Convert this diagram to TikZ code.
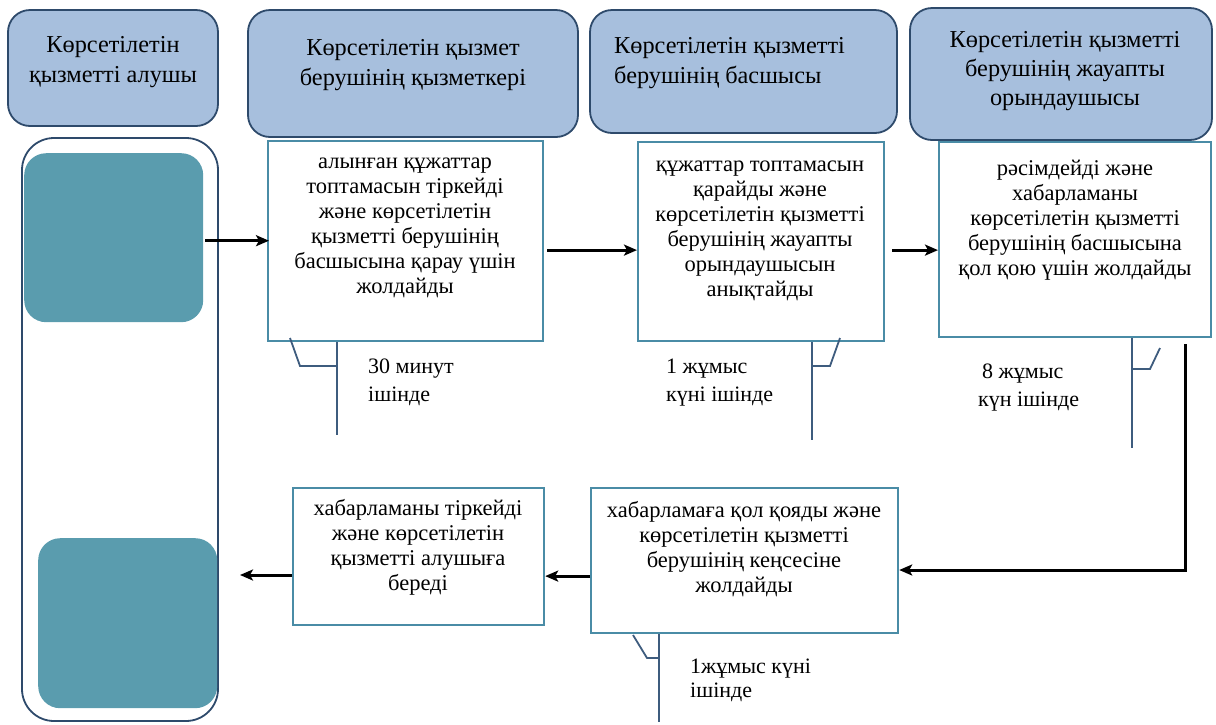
\documentclass[tikz,border=0pt]{standalone}
\usepackage{fontspec}
\setmainfont{Liberation Serif}
\usetikzlibrary{arrows.meta}
\definecolor{headfill}{HTML}{A7BFDD}
\definecolor{headdraw}{HTML}{2E4A6B}
\definecolor{tealfill}{HTML}{5A9CAE}
\definecolor{boxdraw}{HTML}{4A8CA6}
\definecolor{brk}{HTML}{3E5C7E}
\begin{document}
\begin{tikzpicture}[x=1pt,y=-1pt,
  head/.style={draw=headdraw, fill=headfill, line width=1.8pt, rounded corners=22pt},
  lanebox/.style={draw=headdraw, line width=1.8pt, rounded corners=32pt},
  tealbox/.style={fill=tealfill, rounded corners=22pt},
  stepbox/.style={draw=boxdraw, line width=2.2pt, fill=white},
  htxt/.style={font=\fontsize{24.3}{30}\selectfont, align=center, anchor=north, inner sep=0pt},
  btxt/.style={font=\fontsize{22.5}{25}\selectfont, align=center, anchor=north, inner sep=0pt},
  ttxt/.style={font=\fontsize{22}{28.5}\selectfont, align=left, anchor=north west, inner sep=0pt},
  flow/.style={-{Stealth[length=13pt,width=11pt,inset=3pt]}, line width=3pt},
  brkline/.style={draw=brk, line width=1.8pt}
]
\useasboundingbox (0,0) rectangle (1216,724);

% header boxes
\draw[head] (8,10) rectangle (218,126);
\node[inner sep=0pt, minimum size=0pt] (h1) at (113,68) {};
\draw[head] (248,10) rectangle (578,137);
\node[inner sep=0pt, minimum size=0pt] (h2) at (413,73) {};
\draw[head] (590,10) rectangle (897,133);
\node[inner sep=0pt, minimum size=0pt] (h3) at (743,71) {};
\draw[head] (910,8) rectangle (1212,140);
\node[inner sep=0pt, minimum size=0pt] (h4) at (1061,74) {};

\node[htxt] (h1t) at (113,31.6) {\strut Көрсетілетін\\қызметті алушы};
\node[htxt] (h2t) at (413,34.6) {\strut Көрсетілетін қызмет\\берушінің қызметкері};
\node[htxt, anchor=north west, align=left] (h3t) at (614,32.6) {\strut Көрсетілетін қызметті\\берушінің басшысы};
\node[htxt, font=\fontsize{24.3}{29}\selectfont] (h4t) at (1065,27) {\strut Көрсетілетін қызметті\\берушінің жауапты\\орындаушысы};

% lane of the receiver
\draw[lanebox] (22,138) rectangle (218,721);
\node[tealbox, minimum width=179pt, minimum height=169pt, anchor=north west, inner sep=0pt] (teal1) at (24,153) {};
\node[tealbox, minimum width=179pt, minimum height=170pt, anchor=north west, inner sep=0pt] (teal2) at (38,538) {};

% step boxes
\node[stepbox, minimum width=275pt, minimum height=200pt, anchor=north west, inner sep=0pt] (b1) at (267,140) {};
\node[stepbox, minimum width=246pt, minimum height=199pt, anchor=north west, inner sep=0pt] (b2) at (637,141) {};
\node[stepbox, minimum width=272pt, minimum height=195pt, anchor=north west, inner sep=0pt] (b3) at (938,141) {};
\node[stepbox, minimum width=307pt, minimum height=145pt, anchor=north west, inner sep=0pt] (b4) at (590,487) {};
\node[stepbox, minimum width=251pt, minimum height=137pt, anchor=north west, inner sep=0pt] (b5) at (292,487) {};

\node[btxt] (b1t) at (405,150.7) {\strut алынған құжаттар\\топтамасын тіркейді\\және көрсетілетін\\қызметті берушінің\\басшысына қарау үшін\\жолдайды};
\node[btxt] (b2t) at (760,153.7) {\strut құжаттар топтамасын\\қарайды және\\көрсетілетін қызметті\\берушінің жауапты\\орындаушысын\\анықтайды};
\node[btxt] (b3t) at (1075,157.7) {\strut рәсімдейді және\\хабарламаны\\көрсетілетін қызметті\\берушінің басшысына\\қол қою үшін жолдайды};
\node[btxt] (b4t) at (744,499.7) {\strut хабарламаға қол қояды және\\көрсетілетін қызметті\\берушінің кеңсесіне\\жолдайды};
\node[btxt] (b5t) at (418,497.7) {\strut хабарламаны тіркейді\\және көрсетілетін\\қызметті алушыға\\береді};

% flow arrows
\coordinate (turn) at (1185,570);
\coordinate (recv) at (240,575);
\draw[flow] ([shift={(2,3)}]teal1.east) -- ([shift={(2,3)}]teal1.east -| b1.west);
\draw[flow] ([shift={(3,9)}]b1.east) -- ([shift={(0,9)}]b1.east -| b2.west);
\draw[flow] ([shift={(7,8.5)}]b2.east) -- ([shift={(0,8.5)}]b2.east -| b3.west);
\draw[flow] ([yshift=-6pt]b3.south -| turn) -- (turn) -- (turn -| b4.east);
\draw[flow] ([shift={(0,15.5)}]b4.west) -- ([shift={(0,15.5)}]b4.west -| b5.east);
\draw[flow] (b5.west |- recv) -- (recv);

% time brackets
\draw[brkline] (b1.south -| 337,0) -- (337,435);
\draw[brkline] (290,338) -- (300,366) -- (337,366);
\node[ttxt] (t1) at (368,353) {\strut 30 минут\\ішінде};

\draw[brkline] (b2.south -| 812,0) -- (812,440);
\draw[brkline] (812,366) -- (830,366) -- (840,338);
\node[ttxt] (t2) at (666,353) {\strut 1 жұмыс\\күні ішінде};

\draw[brkline] (b3.south -| 1132,0) -- (1132,448);
\draw[brkline] (1132,369) -- (1150,369) -- (1160,348);
\node[ttxt] (t3) at (978,358) {\strut\hspace*{4pt}8 жұмыс\\күн ішінде};

\draw[brkline] (b4.south -| 659,0) -- (659,722);
\draw[brkline] (633,635) -- (647,658) -- (659,658);
\node[ttxt, font=\fontsize{22}{24}\selectfont] (t4) at (690,656) {\strut 1жұмыс күні\\ішінде};
\end{tikzpicture}
\end{document}
